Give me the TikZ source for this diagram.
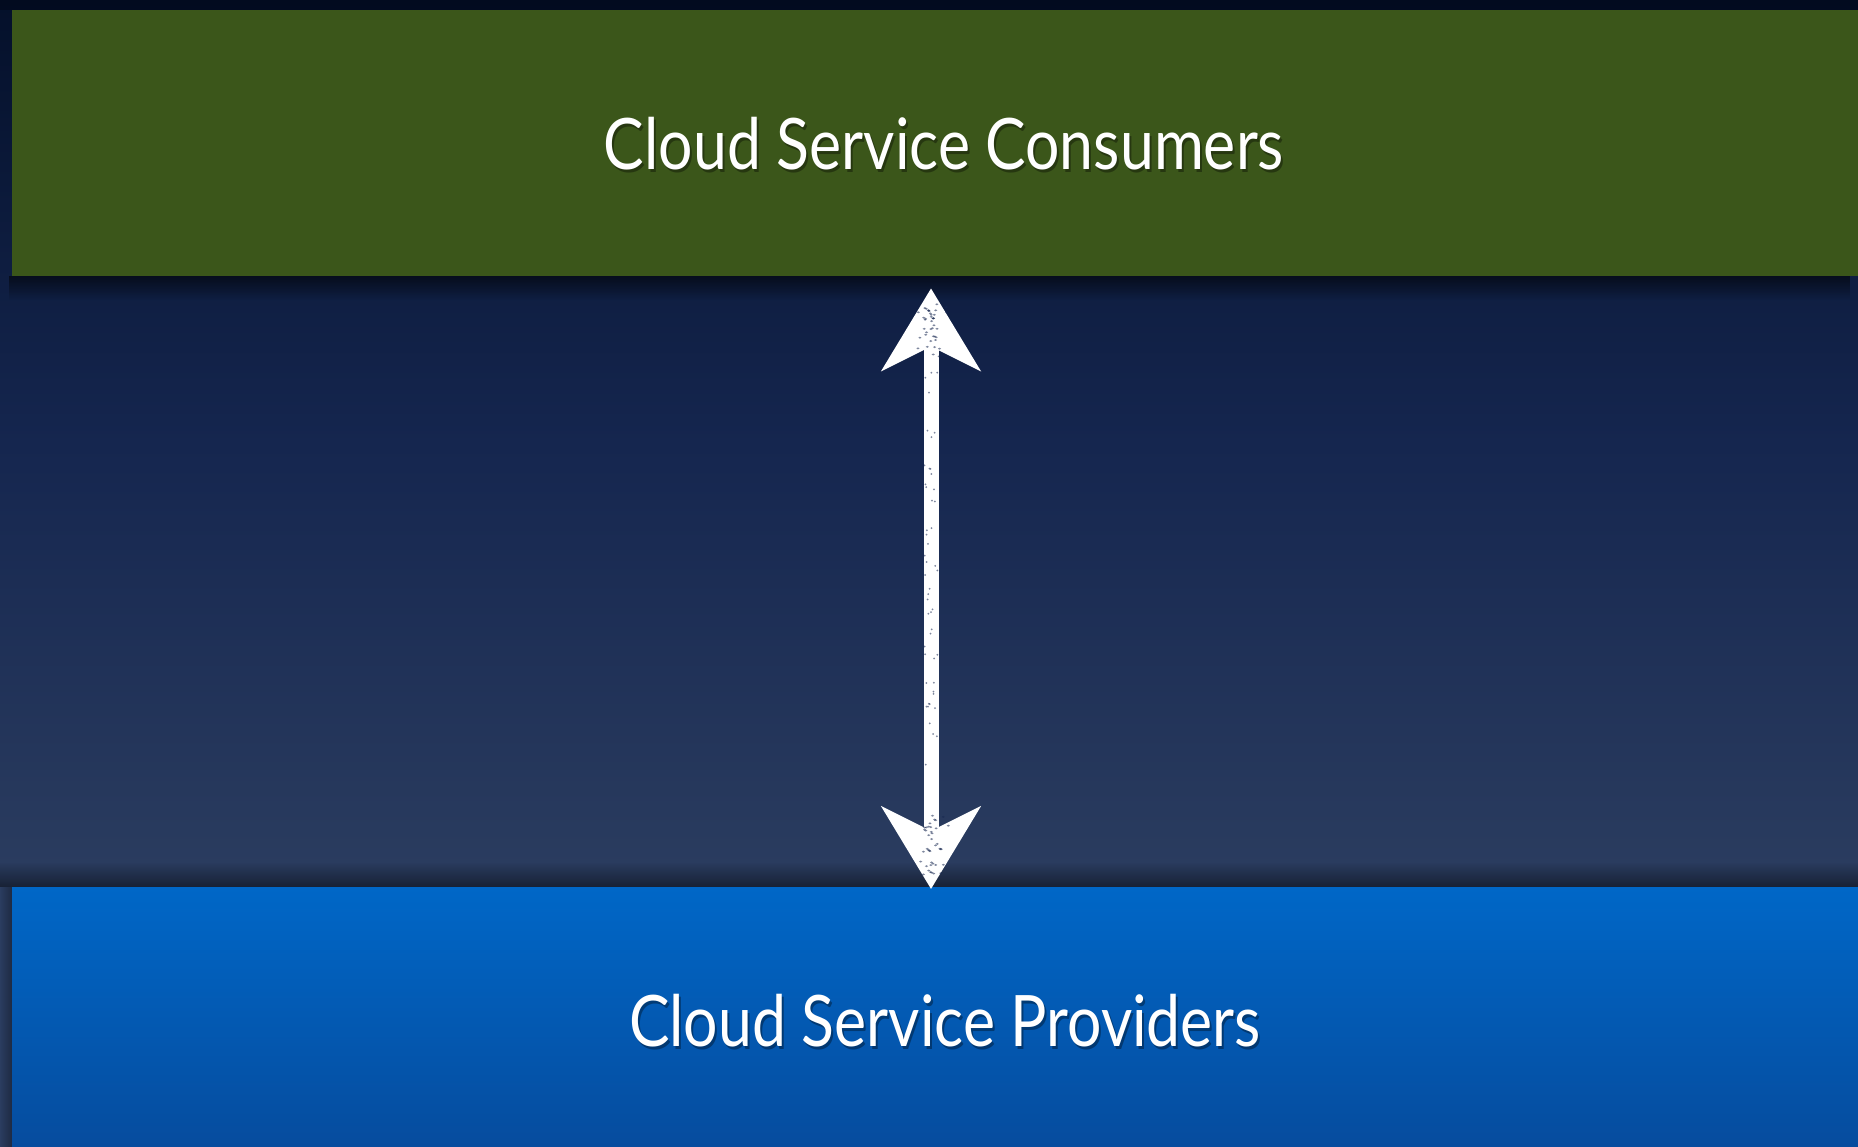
\documentclass[tikz,border=0pt]{standalone}
\usepackage{fontspec}
\setmainfont{Lato}
\newfontfamily\slidefont[FakeStretch=0.855]{Lato}
\usetikzlibrary{arrows.meta,fadings}
\definecolor{bgtop}{HTML}{04102A}
\definecolor{bgmid}{HTML}{15264F}
\definecolor{bgbot}{HTML}{2B3D60}
\definecolor{consgreen}{HTML}{3B561A}
\definecolor{provtop}{HTML}{0067C7}
\definecolor{provbot}{HTML}{064C9E}
\tikzset{
  label text/.style={font=\slidefont\fontsize{71}{80}\selectfont, text=white, inner sep=0pt},
  label shadow/.style={font=\slidefont\fontsize{71}{80}\selectfont, text=black, opacity=0.35, inner sep=0pt},
  chalk/.style={draw=white, line width=15pt,
    {Stealth[length=82pt, width=98pt, inset=24pt]}-{Stealth[length=82pt, width=98pt, inset=24pt]}},
  speck/.style={fill=bgmid, opacity=0.55},
}
\begin{document}
\begin{tikzpicture}[x=1pt,y=-1pt]
\useasboundingbox (0,0) rectangle (1858,1147);
% background
\shade[top color=bgtop, bottom color=bgbot, middle color=bgmid] (0,0) rectangle (1858,887);
\fill[bgbot] (0,886) rectangle (1858,1147);
\fill[black, opacity=0.25] (0,0) rectangle (1858,10);
% shadows
\fill[black, opacity=0.55, path fading=south] (12,276) rectangle (1858,300);
\fill[black, opacity=0.45, path fading=north] (0,862) rectangle (1858,887);
\fill[black, opacity=0.3, path fading=west] (0,887) rectangle (12,1147);
% boxes
\fill[consgreen] (12,10) rectangle (1858,276);
\node[minimum width=1846pt, minimum height=266pt, inner sep=0pt, anchor=north west] (cons) at (12,10) {};
\shade[top color=provtop, bottom color=provbot] (12,887) rectangle (1858,1147);
\node[minimum width=1846pt, minimum height=260pt, inner sep=0pt, anchor=north west] (prov) at (12,887) {};
% labels
\node[label shadow] (consshadow) at (946,147) {Cloud Service Consumers};
\node[label text] (conslabel) at (944,144) {Cloud Service Consumers};
\node[label shadow] (provshadow) at (947,1024) {Cloud Service Providers};
\node[label text] (provlabel) at (945,1021) {Cloud Service Providers};
% arrow
\coordinate (acol) at (931,0);
\draw[chalk, shorten <=12pt, shorten >=-2pt] (cons.south -| acol) -- (prov.north -| acol);
% chalk texture
\pgfmathsetseed{11}
\foreach \i in {1,...,40} {
  \pgfmathsetmacro{\sx}{931+rand*18*(1-rnd)}
  \pgfmathsetmacro{\sy}{300+rnd*60}
  \fill[speck] (\sx,\sy) ellipse (1.6pt and 1pt);
}
\foreach \i in {1,...,40} {
  \pgfmathsetmacro{\sx}{931+rand*18*(1-rnd)}
  \pgfmathsetmacro{\sy}{815+rnd*60}
  \fill[speck] (\sx,\sy) ellipse (1.6pt and 1pt);
}
\foreach \i in {1,...,50} {
  \pgfmathsetmacro{\sx}{931+rand*6.5}
  \pgfmathsetmacro{\sy}{370+rnd*440}
  \fill[speck] (\sx,\sy) circle (1pt);
}
\end{tikzpicture}
\end{document}
